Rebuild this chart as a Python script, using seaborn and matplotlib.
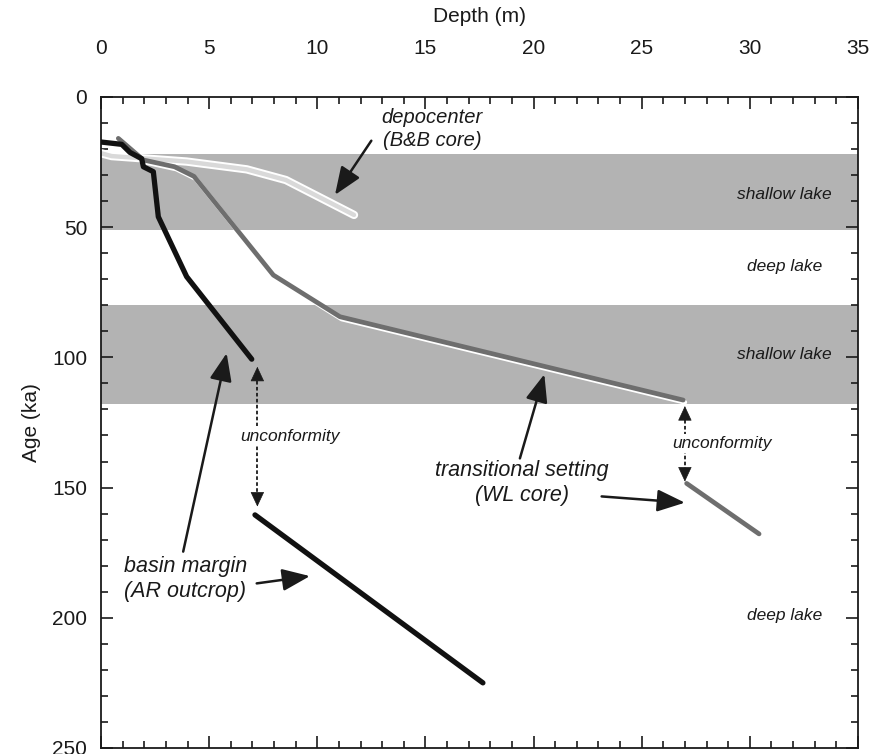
import numpy as np
import pandas as pd
import matplotlib
matplotlib.use("Agg")
import matplotlib.pyplot as plt
import matplotlib.patheffects as pe
from matplotlib.ticker import MultipleLocator
import seaborn as sns

# basin margin (AR outcrop), two segments either side of the unconformity
margin_depth_a = [0.0, 0.96, 1.34, 1.88, 1.96, 2.42, 2.65, 3.96, 6.97]
margin_age_a = [17.3, 18.2, 21.3, 23.7, 26.8, 28.7, 46.0, 69.0, 100.7]
margin_depth_b = [7.12, 17.66]
margin_age_b = [160.5, 225.0]

# transitional setting (WL core)
wl_depth_a = [0.8, 1.96, 3.4, 4.3, 7.97, 11.05, 26.92]
wl_age_a = [15.9, 24.2, 26.8, 30.5, 68.4, 84.4, 116.4]
wl_depth_b = [27.08, 30.43]
wl_age_b = [148.4, 167.8]

# depocenter (B&B core)
bb_depth = [0.0, 0.49, 3.96, 6.74, 8.55, 11.7]
bb_age = [21.6, 22.7, 24.8, 27.8, 31.9, 45.3]

# lake stages
shallow_bands = [(22, 51), (80, 118)]
stage_labels = ["shallow lake", "deep lake", "shallow lake", "deep lake"]
stage_ages = [37.6, 65, 99, 199]

sns.set_theme(style="ticks")
plt.rcParams['font.family'] = ['Liberation Sans', 'DejaVu Sans']

fig = plt.figure(figsize=(8.73, 7.54), dpi=100)
ax = fig.add_axes([0.1157, 0.008, 0.867, 0.8634])

for lo, hi in shallow_bands:
    ax.axhspan(lo, hi, color='#b3b3b3', lw=0, zorder=0)

bb = pd.DataFrame({'depth': bb_depth, 'age': bb_age})
sns.lineplot(data=bb, x='depth', y='age', sort=False, estimator=None, ax=ax,
             color='#d9d9d9', lw=3.2, zorder=2,
             path_effects=[pe.withStroke(linewidth=6, foreground='white')])

shadow = [pe.SimpleLineShadow(offset=(1.2, -1.6), shadow_color='white', alpha=1), pe.Normal()]
for d, a in [(wl_depth_a, wl_age_a), (wl_depth_b, wl_age_b)]:
    wl = pd.DataFrame({'depth': d, 'age': a})
    sns.lineplot(data=wl, x='depth', y='age', sort=False, estimator=None, ax=ax,
                 color='#6e6e6e', lw=3.4, zorder=3, path_effects=shadow)

for d, a in [(margin_depth_a, margin_age_a), (margin_depth_b, margin_age_b)]:
    m = pd.DataFrame({'depth': d, 'age': a})
    sns.lineplot(data=m, x='depth', y='age', sort=False, estimator=None, ax=ax,
                 color='#111111', lw=3.8, zorder=4)

ax.set_xlim(0, 35)
ax.set_ylim(250, 0)
ax.xaxis.set_major_locator(MultipleLocator(5))
ax.xaxis.set_minor_locator(MultipleLocator(1))
ax.yaxis.set_major_locator(MultipleLocator(50))
ax.yaxis.set_minor_locator(MultipleLocator(10))
ax.xaxis.set_label_position('top')
ax.tick_params(which='both', direction='in', top=True, bottom=True, left=True, right=True,
               labeltop=True, labelbottom=False, labelleft=True, labelright=False,
               width=1.2, color='#1a1a1a', labelsize=15, labelcolor='#1a1a1a')
ax.tick_params(which='major', length=8.5)
ax.tick_params(which='minor', length=5)
ax.tick_params(axis='x', which='major', pad=28)
ax.tick_params(axis='y', which='major', pad=10)
for s in ax.spines.values():
    s.set_linewidth(1.3)
    s.set_color('#1a1a1a')
ax.set_xlabel('Depth (m)', fontsize=15, labelpad=12, color='#1a1a1a')
ax.set_ylabel('Age (ka)', fontsize=15, labelpad=8, color='#1a1a1a')

# lake stage labels
for lab, age in zip(stage_labels, stage_ages):
    xr = 33.8 if lab.startswith('shallow') else 33.35
    ax.text(xr, age, lab, ha='right', va='center', style='italic', fontsize=12.5, color='#1a1a1a')

txt = dict(style='italic', color='#1a1a1a', ha='center', va='center', linespacing=1.25)
arrow = dict(arrowstyle='-|>,head_length=0.85,head_width=0.34', mutation_scale=20,
             lw=1.8, color='#1a1a1a', shrinkA=0, shrinkB=0)

ax.text(15.3, 12.3, 'depocenter\n(B&B core)', fontsize=14.5, **txt)
ax.annotate('', xy=(10.82, 37.6), xytext=(12.5, 16.8), arrowprops=arrow)

ax.text(3.9, 185, 'basin margin\n(AR outcrop)', fontsize=15.5, **txt)
ax.annotate('', xy=(5.81, 98.4), xytext=(3.8, 174.6), arrowprops=arrow)
ax.annotate('', xy=(9.66, 184.0), xytext=(7.2, 186.8), arrowprops=arrow)

ax.text(19.46, 148.4, 'transitional setting\n(WL core)', fontsize=15.5, **txt)
ax.annotate('', xy=(20.5, 106.5), xytext=(19.37, 138.8), arrowprops=arrow)
ax.annotate('', xy=(27.0, 155.8), xytext=(23.15, 153.4), arrowprops=arrow)

# unconformities: dotted line with an arrowhead at each end, label breaks the line
small = dict(arrowstyle='-|>,head_length=0.6,head_width=0.28', mutation_scale=16,
             lw=0.5, color='#1a1a1a', shrinkA=0, shrinkB=0)
for x, top, bot, tx, ty in [(7.23, 103.6, 157.3, 8.74, 130.2), (27.0, 118.7, 147.7, 28.7, 133.0)]:
    ax.plot([x, x], [top + 3, bot - 3], ls=(0, (2, 1.3)), lw=1.3, color='#1a1a1a', zorder=5)
    ax.annotate('', xy=(x, top), xytext=(x, top + 3.5), arrowprops=small)
    ax.annotate('', xy=(x, bot), xytext=(x, bot - 3.5), arrowprops=small)
    ax.text(tx, ty, 'unconformity', fontsize=12.5, zorder=6,
            bbox=dict(facecolor='white', edgecolor='none', pad=1.5), **txt)

fig.savefig('out.png', dpi=100)
